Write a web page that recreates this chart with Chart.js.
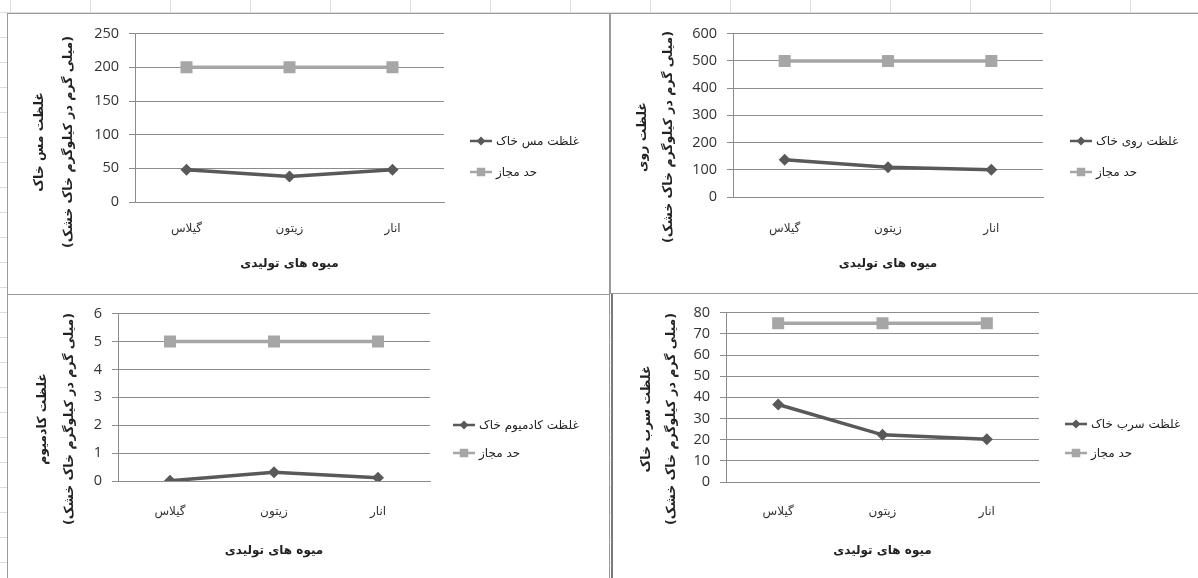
<!DOCTYPE html>
<html>
<head>
<meta charset="utf-8">
<script src="https://cdn.jsdelivr.net/npm/chart.js@4/dist/chart.umd.min.js"></script>
<style>
  body {
    margin: 0;
    width: 1198px;
    height: 578px;
    position: relative;
    overflow: hidden;
    background-color: #fff;
    background-image: linear-gradient(90deg, #dcdcdc 1px, transparent 1px), linear-gradient(#dcdcdc 1px, transparent 1px);
    background-size: 80px 25px;
    background-position: 10px 12px;
  }
  .panel { position: absolute; background: #fff; border: 1px solid #9a9a9a; box-sizing: border-box; }
  canvas { position: absolute; }
</style>
</head>
<body>
<div class="panel" style="left:7px;top:13px;width:603px;height:282px"></div>
<div class="panel" style="left:610px;top:13px;width:600px;height:281px"></div>
<div class="panel" style="left:7px;top:294px;width:603px;height:300px"></div>
<div class="panel" style="left:611px;top:293px;width:600px;height:300px;border-left:2px solid #7a7a7a"></div>

<canvas id="copper" width="600" height="279" style="left:8px;top:15px"></canvas>
<canvas id="zinc" width="586" height="278" style="left:612px;top:15px"></canvas>
<canvas id="cadmium" width="600" height="283" style="left:8px;top:295px"></canvas>
<canvas id="lead" width="585" height="284" style="left:613px;top:294px"></canvas>

<script>
// داده ها
const fruits = ['گیلاس', 'زیتون', 'انار'];

const copper = [48, 38, 48];
const copperLimit = [200, 200, 200];
const zinc = [137, 109, 100];
const zincLimit = [500, 500, 500];
const cadmium = [0.01, 0.31, 0.12];
const cadmiumLimit = [5, 5, 5];
const lead = [36.6, 22.3, 20.2];
const leadLimit = [75, 75, 75];

const xTitle = 'میوه های تولیدی';
const unitTitle = '(میلی گرم در کیلوگرم خاک خشک)';
const limitLabel = 'حد مجاز';

const persianFont = "'DejaVu Sans', sans-serif";
const numberFont = "'Open Sans', sans-serif";

// legend drawn beside the plot, Excel style (line + marker, text on the right)
const sideLegend = {
  id: 'sideLegend',
  afterDraw(chart, args, opts) {
    const ctx = chart.ctx;
    chart.data.datasets.forEach((ds, i) => {
      const x = opts.x;
      const y = opts.y + i * opts.gap;
      ctx.save();
      ctx.strokeStyle = ds.borderColor;
      ctx.lineWidth = 2.5;
      ctx.beginPath();
      ctx.moveTo(x, y);
      ctx.lineTo(x + 22, y);
      ctx.stroke();
      ctx.fillStyle = ds.pointBackgroundColor;
      ctx.strokeStyle = ds.pointBorderColor;
      Chart.helpers.drawPoint(ctx, {
        pointStyle: ds.pointStyle,
        radius: ds.pointStyle === 'rect' ? 6 : 4.5,
        borderWidth: 0,
        rotation: 0,
      }, x + 11, y);
      ctx.fillStyle = '#222';
      ctx.font = '12px ' + persianFont;
      ctx.textBaseline = 'middle';
      ctx.textAlign = 'left';
      ctx.fillText(ds.label, x + 26, y + 1);
      ctx.restore();
    });
  },
};

// vertical (rotated) y-axis title, centred on the panel like Excel does
const sideTitle = {
  id: 'sideTitle',
  afterDraw(chart, args, opts) {
    const ctx = chart.ctx;
    ctx.save();
    ctx.fillStyle = '#222';
    ctx.font = 'bold 12.5px ' + persianFont;
    ctx.textAlign = 'center';
    ctx.textBaseline = 'middle';
    opts.lines.forEach((line, i) => {
      ctx.save();
      ctx.translate(opts.xs[i], opts.y);
      ctx.rotate(-Math.PI / 2);
      ctx.fillText(line, 0, 0);
      ctx.restore();
    });
    ctx.restore();
  },
};

function buildChart(id, o) {
  return new Chart(document.getElementById(id), {
    type: 'line',
    data: {
      labels: fruits,
      datasets: [
        {
          label: o.seriesLabel,
          data: o.values,
          borderColor: '#595959',
          backgroundColor: '#595959',
          pointBackgroundColor: '#595959',
          pointBorderColor: '#595959',
          borderWidth: 3.5,
          pointStyle: 'rectRot',
          pointRadius: 6,
          pointBorderWidth: 0,
        },
        {
          label: limitLabel,
          data: o.limit,
          borderColor: '#a6a6a6',
          backgroundColor: '#a6a6a6',
          pointBackgroundColor: '#a6a6a6',
          pointBorderColor: '#a6a6a6',
          borderWidth: 3.5,
          pointStyle: 'rect',
          pointRadius: 8.5,
          pointBorderWidth: 0,
        },
      ],
    },
    options: {
      responsive: false,
      animation: false,
      layout: { padding: o.pad },
      plugins: {
        legend: { display: false },
        tooltip: { enabled: false },
        sideLegend: o.legend,
        sideTitle: { lines: [o.yTitle, unitTitle], xs: o.titleXs, y: o.titleY },
      },
      scales: {
        x: {
          offset: true,
          grid: { display: true, drawOnChartArea: false, drawTicks: false },
          border: { color: '#8c8c8c' },
          ticks: {
            padding: o.xLabelPad,
            maxRotation: 0,
            color: '#333',
            font: { family: persianFont, size: 12 },
          },
          title: {
            display: true,
            text: xTitle,
            color: '#222',
            font: { family: persianFont, size: 12, weight: 'bold', lineHeight: '15px' },
            padding: { top: 0, bottom: o.xTitleBottom },
          },
          afterFit: (s) => { s.height = o.xHeight; },
        },
        y: {
          min: 0,
          max: o.yMax,
          ticks: {
            stepSize: o.yStep,
            padding: 10,
            color: '#333',
            font: { family: numberFont, size: 14.5 },
          },
          grid: { color: '#8c8c8c', tickLength: 6 },
          border: { color: '#8c8c8c' },
          afterFit: (s) => { s.width = o.yWidth; },
        },
      },
    },
    plugins: [sideLegend, sideTitle],
  });
}

buildChart('copper', {
  seriesLabel: 'غلظت مس خاک',
  yTitle: 'غلظت مس خاک',
  values: copper,
  limit: copperLimit,
  yMax: 250,
  yStep: 50,
  pad: { left: 0, top: 18, right: 164, bottom: 0 },
  yWidth: 127,
  titleXs: [32, 61],
  titleY: 127,
  xHeight: 92,
  xLabelPad: 20,
  xTitleBottom: 23,
  legend: { x: 462, y: 126, gap: 31 },
});

buildChart('zinc', {
  seriesLabel: 'غلظت روی خاک',
  yTitle: 'غلظت روی',
  values: zinc,
  limit: zincLimit,
  yMax: 600,
  yStep: 100,
  pad: { left: 0, top: 17, right: 155, bottom: 0 },
  yWidth: 121,
  titleXs: [31, 57],
  titleY: 122,
  xHeight: 96,
  xLabelPad: 25,
  xTitleBottom: 22,
  legend: { x: 458, y: 126, gap: 31 },
});

buildChart('cadmium', {
  seriesLabel: 'غلظت کادمیوم خاک',
  yTitle: 'غلظت کادمیوم',
  values: cadmium,
  limit: cadmiumLimit,
  yMax: 6,
  yStep: 1,
  pad: { left: 0, top: 18, right: 178, bottom: 0 },
  yWidth: 110,
  titleXs: [35, 62],
  titleY: 124,
  xHeight: 97,
  xLabelPad: 24,
  xTitleBottom: 20,
  legend: { x: 445, y: 130, gap: 28 },
});

buildChart('lead', {
  seriesLabel: 'غلظت سرب خاک',
  yTitle: 'غلظت سرب خاک',
  values: lead,
  limit: leadLimit,
  yMax: 80,
  yStep: 10,
  pad: { left: 0, top: 18, right: 159, bottom: 0 },
  yWidth: 113,
  titleXs: [34, 59],
  titleY: 125,
  xHeight: 96,
  xLabelPad: 23,
  xTitleBottom: 20,
  legend: { x: 452, y: 130, gap: 29 },
});
</script>
</body>
</html>
